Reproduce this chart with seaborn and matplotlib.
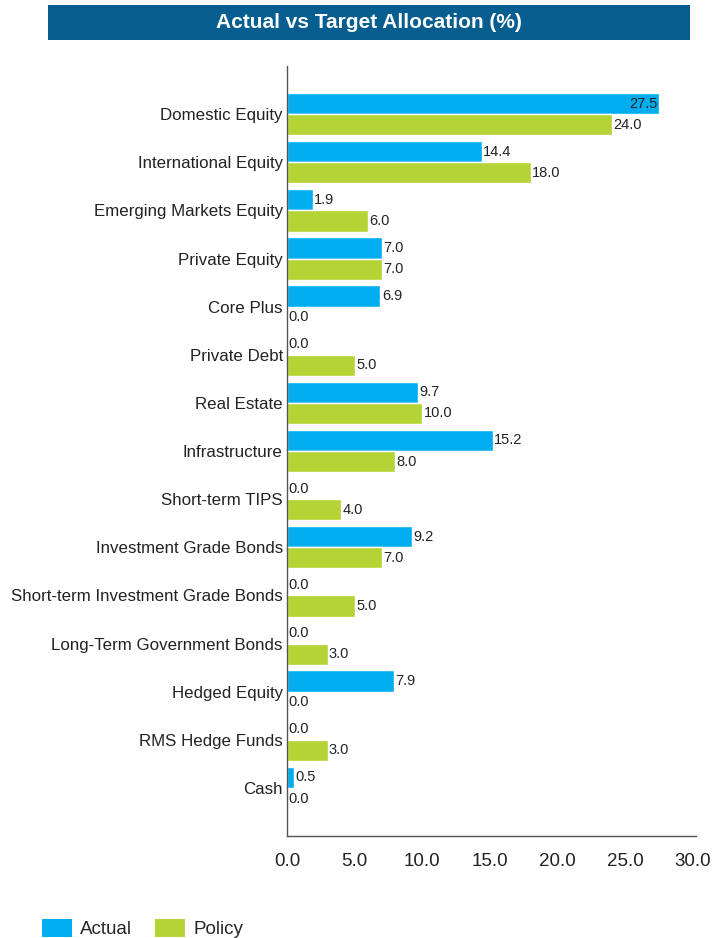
import matplotlib
matplotlib.use("Agg")
import matplotlib.pyplot as plt
from matplotlib.patches import Rectangle, Patch
import seaborn as sns
import pandas as pd

categories = [
    "Domestic Equity", "International Equity", "Emerging Markets Equity",
    "Private Equity", "Core Plus", "Private Debt", "Real Estate",
    "Infrastructure", "Short-term TIPS", "Investment Grade Bonds",
    "Short-term Investment Grade Bonds", "Long-Term Government Bonds",
    "Hedged Equity", "RMS Hedge Funds", "Cash",
]
actual = [27.5, 14.4, 1.9, 7.0, 6.9, 0.0, 9.7, 15.2, 0.0, 9.2, 0.0, 0.0, 7.9, 0.0, 0.5]
policy = [24.0, 18.0, 6.0, 7.0, 0.0, 5.0, 10.0, 8.0, 4.0, 7.0, 5.0, 3.0, 0.0, 3.0, 0.0]
series = ["Actual", "Policy"]
x_ticks = [0, 5, 10, 15, 20, 25, 30]

BLUE = "#00AEEF"
GREEN = "#B4D335"
FONT = ["Liberation Sans", "DejaVu Sans"]

sns.set_theme(style="white")
plt.rcParams["font.family"] = FONT

df = pd.DataFrame({
    "category": categories * 2,
    "series": [series[0]] * len(categories) + [series[1]] * len(categories),
    "value": actual + policy,
})

fig = plt.figure(figsize=(7.15, 9.38), dpi=100)
ax = fig.add_axes([0.4014, 0.1087, 0.568, 0.8209])

sns.barplot(data=df, y="category", x="value", hue="series", orient="h",
            palette=[BLUE, GREEN], width=0.88, dodge=True, ax=ax,
            legend=False, saturation=1)

ax.set_xlim(0, 30)
ax.set_ylim(len(categories), -1)
ax.set_xticks(x_ticks)
ax.set_xticklabels([f"{t:.1f}" for t in x_ticks], fontsize=13.5, color="#222222")
ax.tick_params(axis="x", length=0, pad=12)
ax.tick_params(axis="y", length=0, pad=3, labelsize=12.2, labelcolor="#222222")
ax.set_xlabel("")
ax.set_ylabel("")
for side in ("top", "right"):
    ax.spines[side].set_visible(False)
for side in ("left", "bottom"):
    ax.spines[side].set_color("#555555")
    ax.spines[side].set_linewidth(1.0)
ax.spines["bottom"].set_bounds(0, 30.2)

# value labels at the end of each bar; the widest bar carries its label inside
for container, values in zip(ax.containers, [actual, policy]):
    for patch, v in zip(container.patches, values):
        yc = patch.get_y() + patch.get_height() / 2
        if v >= 26:
            ax.text(v - 0.15, yc, f"{v:.1f}", ha="right", va="center",
                    fontsize=10.5, color="#222222")
        else:
            ax.text(v + 0.1, yc, f"{v:.1f}", ha="left", va="center",
                    fontsize=10.5, color="#222222")

# title banner
fig.patches.append(Rectangle((0.067, 0.957), 0.898, 0.0375,
                             transform=fig.transFigure, facecolor="#055E8F",
                             edgecolor="none", zorder=0))
fig.text(0.516, 0.9755, "Actual vs Target Allocation (%)", ha="center",
         va="center", color="white", fontsize=15, fontweight="bold")

handles = [Patch(facecolor=BLUE, edgecolor="none"),
           Patch(facecolor=GREEN, edgecolor="none")]
fig.legend(handles, series, loc="lower left", bbox_to_anchor=(0.035, -0.018),
           ncol=2, frameon=False, fontsize=13.5, handlelength=1.6,
           handleheight=1.12, columnspacing=1.2, handletextpad=0.45)

fig.savefig("out.png", dpi=100, facecolor="white")
